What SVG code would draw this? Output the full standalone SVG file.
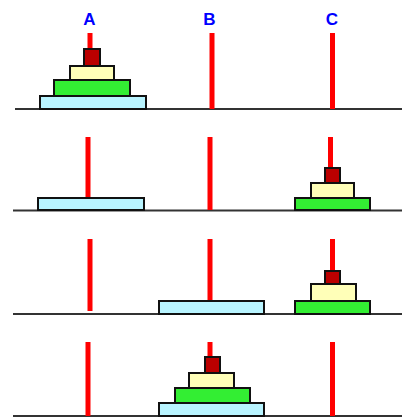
<svg xmlns="http://www.w3.org/2000/svg" width="402" height="417" viewBox="0 0 402 417">
<style>
.base{stroke:#333;stroke-width:2;fill:none}
.peg{fill:#ff0000}
.disk{stroke:#111;stroke-width:2}
.d1{fill:#b8f4ff}
.d2{fill:#33ee33}
.d3{fill:#ffffb8}
.d4{fill:#bb0000}
.lbl{font-family:"Liberation Sans",Arial,sans-serif;font-weight:bold;font-size:17px;fill:#0000ff;text-anchor:middle}
</style>
<rect width="402" height="417" fill="#ffffff"/>
<g id="labels">
<text class="lbl" x="89.5" y="25">A</text>
<text class="lbl" x="209.5" y="25">B</text>
<text class="lbl" x="332" y="25">C</text>
</g>
<g id="panel1">
<line class="base" x1="15" y1="109" x2="402" y2="109"/>
<rect class="peg" x="87.5" y="33" width="5" height="76"/>
<rect class="peg" x="209.5" y="33" width="5" height="76"/>
<rect class="peg" x="330" y="33" width="5" height="76"/>
<rect class="disk d1" x="40" y="96" width="106" height="13"/>
<rect class="disk d2" x="54" y="80" width="76" height="16"/>
<rect class="disk d3" x="70" y="66" width="44" height="14"/>
<rect class="disk d4" x="84" y="49" width="16" height="17"/>
</g>
<g id="panel2">
<line class="base" x1="13" y1="210.5" x2="402" y2="210.5"/>
<rect class="peg" x="85.5" y="137" width="5" height="73"/>
<rect class="peg" x="207.5" y="137" width="5" height="73"/>
<rect class="peg" x="328" y="137" width="5" height="73"/>
<rect class="disk d1" x="38" y="198" width="106" height="12"/>
<rect class="disk d2" x="295" y="198" width="75" height="12"/>
<rect class="disk d3" x="311" y="183" width="43" height="15"/>
<rect class="disk d4" x="325" y="168" width="15" height="15"/>
</g>
<g id="panel3">
<line class="base" x1="13" y1="314" x2="402" y2="314"/>
<rect class="peg" x="87.5" y="239" width="5" height="72"/>
<rect class="peg" x="207.5" y="239" width="5" height="75"/>
<rect class="peg" x="330" y="239" width="5" height="75"/>
<rect class="disk d1" x="159" y="301" width="105" height="13"/>
<rect class="disk d2" x="295" y="301" width="75" height="13"/>
<rect class="disk d3" x="311" y="284" width="45" height="17"/>
<rect class="disk d4" x="325" y="271" width="15" height="13"/>
</g>
<g id="panel4">
<line class="base" x1="13" y1="416" x2="402" y2="416"/>
<rect class="peg" x="85.5" y="342" width="5" height="74"/>
<rect class="peg" x="207.5" y="342" width="5" height="74"/>
<rect class="peg" x="330" y="342" width="5" height="74"/>
<rect class="disk d1" x="159" y="403" width="105" height="13"/>
<rect class="disk d2" x="175" y="388" width="75" height="15"/>
<rect class="disk d3" x="189" y="373" width="45" height="15"/>
<rect class="disk d4" x="205" y="357" width="15" height="16"/>
</g>
</svg>
